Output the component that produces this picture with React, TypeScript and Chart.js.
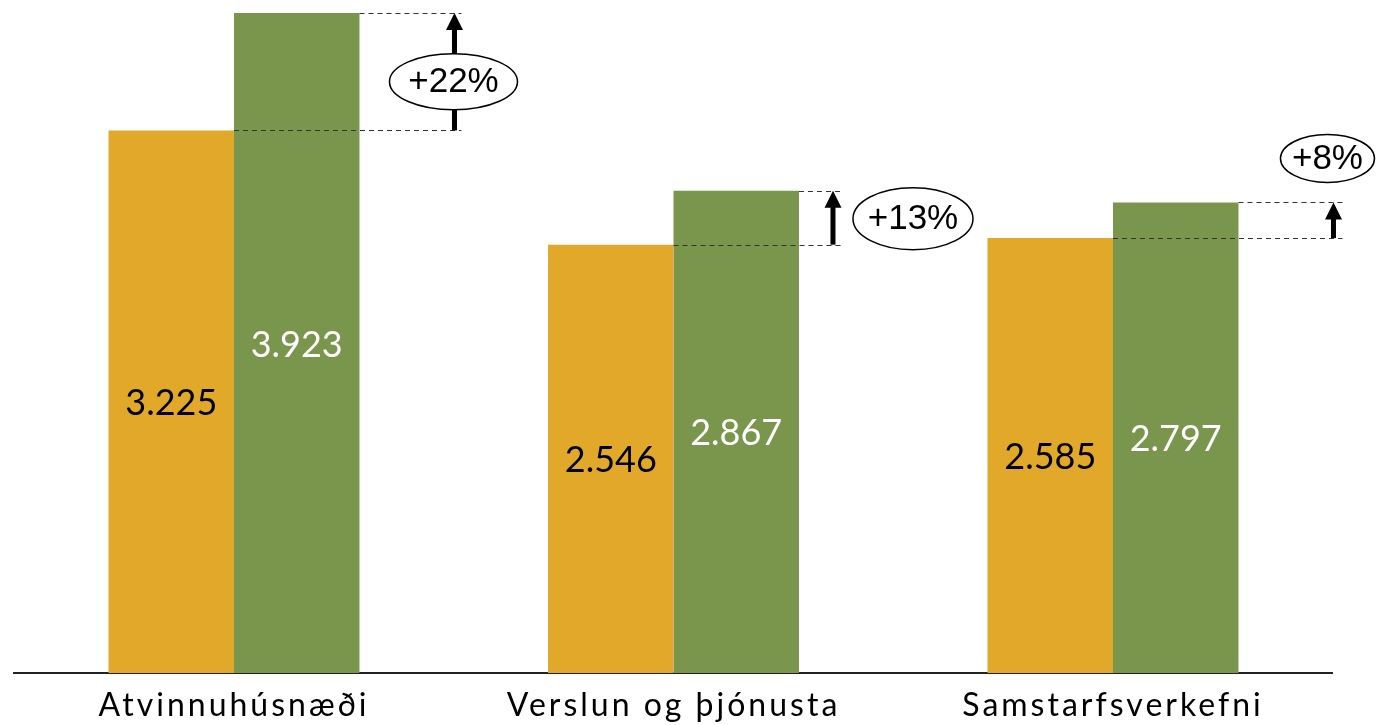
import React, { useEffect, useRef } from "react";
import { Chart, registerables } from "chart.js";

Chart.register(...registerables);

const categories = ["Atvinnuhúsnæði", "Verslun og þjónusta", "Samstarfsverkefni"];
const valuesBefore = [3.225, 2.546, 2.585];
const valuesAfter = [3.923, 2.867, 2.797];
const changeLabels = ["+22%", "+13%", "+8%"];

const ORANGE = "#E1A82A";
const GREEN = "#7A954C";

const spacingPlugin = {
  id: "spacing",
  beforeDraw(chart: any) {
    chart.ctx.letterSpacing = "3px";
  },
  beforeDatasetsDraw(chart: any) {
    chart.ctx.letterSpacing = "0px";
  },
};

const annotationPlugin = {
  id: "annotations",
  afterDatasetsDraw(chart: any) {
    const ctx = chart.ctx;
    ctx.letterSpacing = "0px";
    const m0 = chart.getDatasetMeta(0);
    const m1 = chart.getDatasetMeta(1);
    // value labels
    ctx.save();
    ctx.font = "36px Lato";
    ctx.textAlign = "center";
    ctx.textBaseline = "middle";
    [m0, m1].forEach((meta: any, di: number) => {
      meta.data.forEach((bar: any, i: number) => {
        const v = chart.data.datasets[di].data[i];
        ctx.fillStyle = di === 0 ? "#000" : "#fff";
        ctx.fillText(v.toFixed(3), bar.x, (bar.y + bar.base) / 2 + 2);
      });
    });
    ctx.restore();

    const cfg = [
      { arrowDx: 95, dashExt: 7, mode: "center" },
      { arrowDx: 34, dashExt: 10, mode: "right" },
      { arrowDx: 95, dashExt: 9, mode: "above" },
    ];
    m0.data.forEach((b0: any, i: number) => {
      const b1 = m1.data[i];
      const c = cfg[i];
      const right1 = b1.x + b1.width / 2;
      const ax = right1 + c.arrowDx;
      const yTop = b1.y;
      const yBot = b0.y;
      const dashEnd = ax + c.dashExt;
      ctx.save();
      ctx.strokeStyle = "#333";
      ctx.lineWidth = 1;
      ctx.setLineDash([5, 4]);
      ctx.beginPath();
      ctx.moveTo(right1, Math.round(yTop) + 0.5);
      ctx.lineTo(dashEnd, Math.round(yTop) + 0.5);
      ctx.moveTo(b0.x + b0.width / 2, Math.round(yBot) + 0.5);
      ctx.lineTo(dashEnd, Math.round(yBot) + 0.5);
      ctx.stroke();
      ctx.setLineDash([]);
      // arrow
      const headH = 17;
      const headW = 17;
      ctx.fillStyle = "#000";
      ctx.fillRect(ax - 2.5, yTop + headH - 1, 5, yBot - yTop - headH + 1);
      ctx.beginPath();
      ctx.moveTo(ax, yTop);
      ctx.lineTo(ax - headW / 2, yTop + headH);
      ctx.lineTo(ax + headW / 2, yTop + headH);
      ctx.closePath();
      ctx.fill();
      // ellipse label
      let ex = ax - 1, ey = (yTop + yBot) / 2 + 10, rx = 64, ry = 28;
      if (c.mode === "right") { ex = ax + 80; ey = (yTop + yBot) / 2 + 1; rx = 60; ry = 31; }
      if (c.mode === "above") { ex = ax - 6; ey = yTop - 44; rx = 47; ry = 24; }
      ctx.beginPath();
      ctx.ellipse(ex, ey, rx, ry, 0, 0, Math.PI * 2);
      ctx.fillStyle = "#fff";
      ctx.fill();
      ctx.lineWidth = 1.5;
      ctx.strokeStyle = "#000";
      ctx.stroke();
      ctx.fillStyle = "#000";
      ctx.font = "35px 'Liberation Sans', Arial";
      ctx.textAlign = "center";
      ctx.textBaseline = "middle";
      ctx.fillText(changeLabels[i], ex, ey + 1);
      ctx.restore();
    });
  },
};

export default function App() {
  const ref = useRef<HTMLCanvasElement>(null);
  useEffect(() => {
    const chart = new Chart(ref.current!, {
      type: "bar",
      data: {
        labels: categories,
        datasets: [
          { data: valuesBefore, backgroundColor: ORANGE, borderWidth: 0 },
          { data: valuesAfter, backgroundColor: GREEN, borderWidth: 0 },
        ],
      },
      options: {
        animation: false,
        responsive: false,
        maintainAspectRatio: false,
        datasets: { bar: { categoryPercentage: 0.571, barPercentage: 1.0 } },
        layout: { padding: { left: 14.25, right: 43.25, top: 13, bottom: 0 } },
        plugins: { legend: { display: false }, tooltip: { enabled: false } },
        scales: {
          x: {
            grid: { display: false },
            border: { display: true, color: "#222", width: 2 },
            ticks: { color: "#000", font: { family: "Lato", size: 32 }, padding: 5, maxRotation: 0, autoSkip: false },
            afterFit: (s: any) => { s.height = 52; },
          },
          y: { display: false, min: 0, max: 3.923 },
        },
      },
      plugins: [spacingPlugin, annotationPlugin],
    });
    return () => chart.destroy();
  }, []);
  return (
    <div style={{ position: "fixed", left: 0, top: 0, width: 1376, height: 725, background: "#fff" }}>
      <canvas ref={ref} width={1376} height={725} style={{ width: 1376, height: 725, display: "block" }} />
    </div>
  );
}
